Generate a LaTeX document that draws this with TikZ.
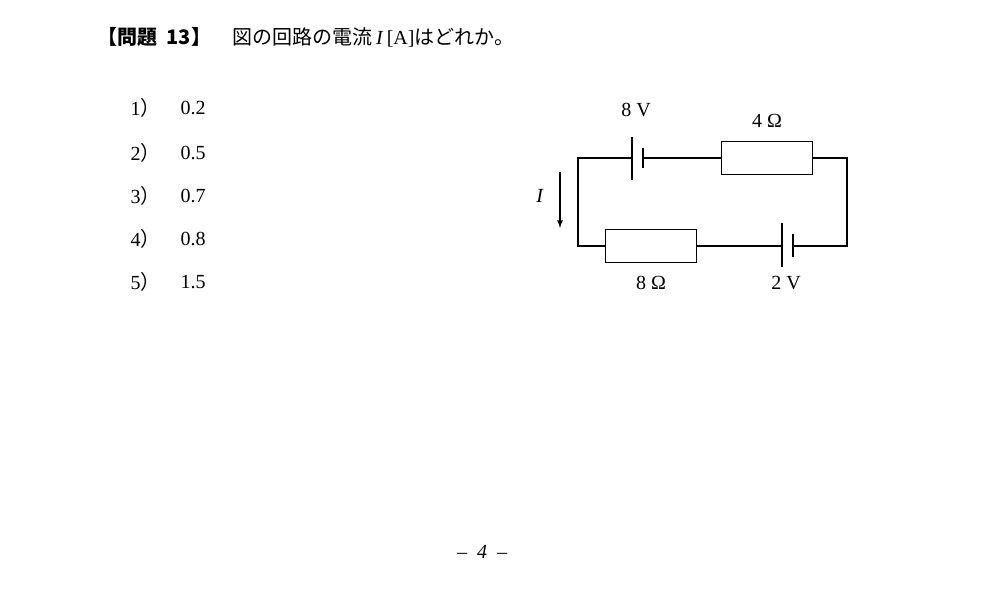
\documentclass[tikz,border=0pt]{standalone}
\usepackage{fontspec}
\setmainfont{Liberation Serif}
\newfontfamily\jpfont{Noto Sans CJK JP}
\begin{document}
\begin{tikzpicture}[x=0.75pt,y=-0.75pt,line width=1pt,font=\fontsize{15}{17}\selectfont,
    resistor/.style={draw,fill=white,minimum width=68pt,minimum height=25pt,inner sep=0pt},
    lbl/.style={inner sep=0pt}]
    % page frame in pixel units
    \useasboundingbox (0,0) rectangle (982,601);

    % question
    \node[lbl,anchor=west] (title) at (97,37) {\jpfont\bfseries 【問題\ \ 13】};
    \node[lbl,anchor=west] (quest) at (232,37) {\jpfont 図の回路の電流\,{\rmfamily\textit{I}\,[A]}はどれか。};

    % choices
    \foreach \k/\v/\y in {1/0.2/108,2/0.5/153,3/0.7/196,4/0.8/239,5/1.5/282} {
      \node[lbl,anchor=west] (num\k) at (130,\y) {\k\jpfont ）};
      \node[lbl,anchor=west] (val\k) at (180,\y) {\v};
    }

    % circuit
    \coordinate (tl) at (578,158);
    \coordinate (tr) at (847,158);
    \coordinate (bl) at (578,246);
    \coordinate (br) at (847,246);
    \node[resistor] (rfour) at (767,158) {};
    \node[resistor] (reight) at (651,246) {};
    \coordinate (ea) at (632,158);
    \coordinate (eb) at (643,158);
    \coordinate (fa) at (782,246);
    \coordinate (fb) at (793,246);

    \draw (ea) -- (tl) -- (bl) -- (reight.west);
    \draw (eb) -- (rfour.west);
    \draw (rfour.east) -- (tr) -- (br) -- (fb);
    \draw (reight.east) -- (fa);
    % batteries
    \draw (ea) ++(0,-21) -- ++(0,43);
    \draw (eb) ++(0,-10) -- ++(0,20);
    \draw (fa) ++(0,-23) -- ++(0,44);
    \draw (fb) ++(0,-12) -- ++(0,23);

    % labels
    \node[lbl] (veight) at (636,110) {8 V};
    \node[lbl] (ofour) at (767,121) {4 Ω};
    \node[lbl] (oeight) at (651,283) {8 Ω};
    \node[lbl] (vtwo) at (786,283) {2 V};

    % current arrow
    \coordinate (ia) at (560,172);
    \coordinate (ib) at (560,228);
    \draw[-latex] (ia) -- (ib);
    \node[lbl] (cur) at (540,196) {\textit{I}};

    % page number
    \node[lbl] (page) at (482,552) {–\ \ \textit{4}\ \ –};
\end{tikzpicture}
\end{document}
